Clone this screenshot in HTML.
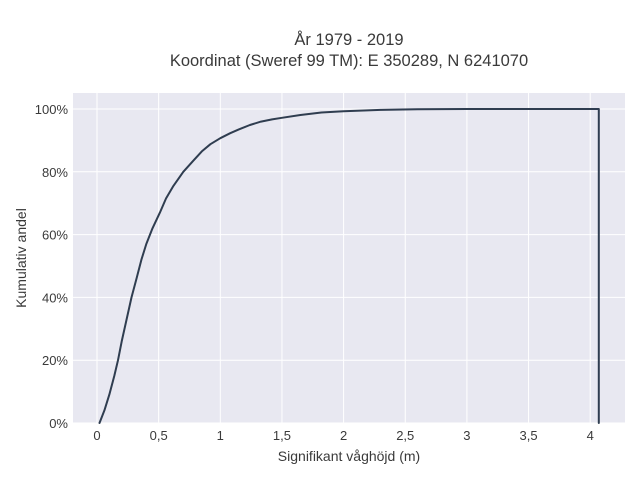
<!DOCTYPE html>
<html><head><meta charset="utf-8"><style>
body{margin:0;background:#fff;}
svg text{font-family:"Liberation Sans",sans-serif;fill:#3a3a3a;}
</style></head><body>
<svg width="640" height="480" xmlns="http://www.w3.org/2000/svg">
<text x="349" y="45" text-anchor="middle" font-size="16.5">År 1979 - 2019</text>
<text x="349" y="66" text-anchor="middle" font-size="16.5">Koordinat (Sweref 99 TM): E 350289, N 6241070</text>
<rect x="73" y="93" width="552" height="330" fill="#e8e8f1"/>
<g id="grid"></g>
<g id="ticks"></g>
<path id="curve" fill="none" stroke="#2f3d50" stroke-width="2" stroke-linejoin="round" stroke-linecap="round"/>
<text x="349" y="461" text-anchor="middle" font-size="14">Signifikant våghöjd (m)</text>
<text transform="translate(26,258) rotate(-90)" text-anchor="middle" font-size="14">Kumulativ andel</text>
</svg>
<script>
const xVals=[0.02,0.06,0.1,0.14,0.17,0.2,0.24,0.28,0.32,0.36,0.4,0.45,0.51,0.56,0.62,0.7,0.78,0.85,0.92,1.0,1.08,1.15,1.24,1.33,1.42,1.5,1.65,1.82,2.0,2.3,2.6,3.0,4.07,4.07];
const yVals=[0,4,9,15,20,26,33,40,46,52,57,62,67,71.5,75.5,80,83.5,86.5,88.8,90.7,92.3,93.5,94.9,96,96.7,97.2,98.1,98.9,99.3,99.7,99.9,100,100,0];
const xTicks=[0,0.5,1,1.5,2,2.5,3,3.5,4];
const xTickLabels=["0","0,5","1","1,5","2","2,5","3","3,5","4"];
const yTicks=[0,20,40,60,80,100];
const yTickLabels=["0%","20%","40%","60%","80%","100%"];
const X=v=>97+v*123.3, Y=v=>423-v*3.14;
const NS="http://www.w3.org/2000/svg";
const grid=document.getElementById('grid'), ticks=document.getElementById('ticks');
xTicks.forEach((t,i)=>{
  const l=document.createElementNS(NS,'line');
  l.setAttribute('x1',X(t));l.setAttribute('x2',X(t));l.setAttribute('y1',93);l.setAttribute('y2',423);
  l.setAttribute('stroke','#fff');l.setAttribute('stroke-width','1');
  
  
  grid.appendChild(l);
  const tx=document.createElementNS(NS,'text');
  tx.setAttribute('x',X(t));tx.setAttribute('y',440);tx.setAttribute('text-anchor','middle');tx.setAttribute('font-size','13');
  tx.textContent=xTickLabels[i];
  
  
  ticks.appendChild(tx);
});
yTicks.forEach((t,i)=>{
  const l=document.createElementNS(NS,'line');
  l.setAttribute('x1',73);l.setAttribute('x2',625);l.setAttribute('y1',Y(t));l.setAttribute('y2',Y(t));
  l.setAttribute('stroke','#fff');l.setAttribute('stroke-width','1');
  
  
  grid.appendChild(l);
  const tx=document.createElementNS(NS,'text');
  tx.setAttribute('x',68);tx.setAttribute('y',Y(t)+5);tx.setAttribute('text-anchor','end');tx.setAttribute('font-size','13');
  tx.textContent=yTickLabels[i];
  
  
  ticks.appendChild(tx);
});
document.getElementById('curve').setAttribute('d',xVals.map((x,i)=>(i?'L':'M')+X(x).toFixed(1)+' '+Y(yVals[i]).toFixed(1)).join(' '));
</script>
</body></html>
